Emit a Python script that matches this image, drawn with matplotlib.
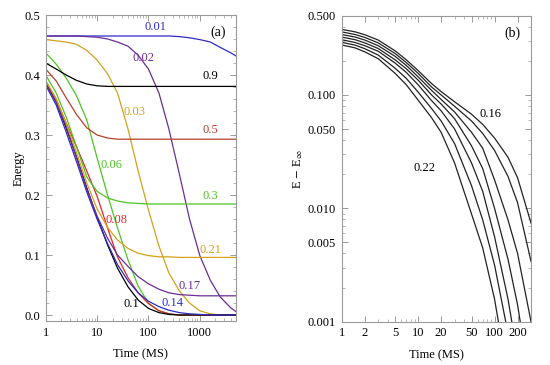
import matplotlib
matplotlib.use("Agg")
import matplotlib.pyplot as plt
from matplotlib.ticker import NullFormatter, LogLocator, MultipleLocator

plt.rcParams['font.family'] = ['Liberation Serif', 'DejaVu Serif']
plt.rcParams['mathtext.fontset'] = 'stix'

# ---------------- panel (a) data ----------------
t_a = [1, 1.6, 2.5, 4, 6.3, 10, 16, 25, 40, 63, 100, 160, 250, 400, 630, 1000, 1600, 2500, 4000, 5000]

e_001 = [0.465, 0.465, 0.465, 0.465, 0.465, 0.465, 0.465, 0.465, 0.465, 0.465, 0.465, 0.465, 0.465, 0.464, 0.462, 0.459, 0.455, 0.446, 0.437, 0.432]
e_002 = [0.465, 0.465, 0.465, 0.465, 0.464, 0.463, 0.460, 0.455, 0.448, 0.433, 0.410, 0.370, 0.310, 0.235, 0.160, 0.099, 0.058, 0.030, 0.012, 0.006]
e_003 = [0.459, 0.457, 0.455, 0.451, 0.441, 0.425, 0.402, 0.370, 0.310, 0.240, 0.175, 0.115, 0.070, 0.040, 0.020, 0.007, 0.002, 0.0, 0.0, 0.0]
e_006 = [0.437, 0.418, 0.395, 0.365, 0.325, 0.262, 0.200, 0.145, 0.092, 0.048, 0.020, 0.007, 0.002, 0.0, 0.0, 0.0, 0.0, 0.0, 0.0, 0.0]
e_008 = [0.390, 0.360, 0.320, 0.280, 0.240, 0.198, 0.145, 0.097, 0.062, 0.037, 0.019, 0.007, 0.002, 0.0, 0.0, 0.0, 0.0, 0.0, 0.0, 0.0]
e_010 = [0.388, 0.355, 0.312, 0.263, 0.212, 0.163, 0.117, 0.078, 0.047, 0.025, 0.011, 0.004, 0.001, 0.0, 0.0, 0.0, 0.0, 0.0, 0.0, 0.0]
e_014 = [0.383, 0.350, 0.305, 0.255, 0.205, 0.160, 0.119, 0.084, 0.057, 0.037, 0.023, 0.014, 0.008, 0.004, 0.002, 0.001, 0.0, 0.0, 0.0, 0.0]
e_017 = [0.385, 0.355, 0.315, 0.262, 0.210, 0.165, 0.128, 0.100, 0.081, 0.064, 0.052, 0.043, 0.037, 0.034, 0.033, 0.032, 0.032, 0.032, 0.032, 0.032]
e_021 = [0.390, 0.360, 0.320, 0.270, 0.220, 0.177, 0.146, 0.125, 0.111, 0.103, 0.099, 0.097, 0.097, 0.096, 0.096, 0.096, 0.096, 0.096, 0.096, 0.096]
e_030 = [0.400, 0.370, 0.330, 0.280, 0.230, 0.206, 0.195, 0.190, 0.187, 0.186, 0.185, 0.185, 0.185, 0.185, 0.185, 0.185, 0.185, 0.185, 0.185, 0.185]
e_050 = [0.410, 0.390, 0.362, 0.334, 0.312, 0.300, 0.295, 0.293, 0.293, 0.293, 0.293, 0.293, 0.293, 0.293, 0.293, 0.293, 0.293, 0.293, 0.293, 0.293]
e_090 = [0.420, 0.410, 0.400, 0.391, 0.385, 0.382, 0.381, 0.381, 0.381, 0.381, 0.381, 0.381, 0.381, 0.381, 0.381, 0.381, 0.381, 0.381, 0.381, 0.381]

labels_a = ['0.01', '0.02', '0.03', '0.06', '0.08', '0.1', '0.14', '0.17', '0.21', '0.3', '0.5', '0.9']
colors_a = ['#2c2cc8', '#6b2d96', '#d4a21a', '#4ec423', '#e0262a', '#000000',
            '#2c2cc8', '#6b2d96', '#d4a21a', '#4ec423', '#b8402a', '#000000']
label_x_a = [138, 80, 54, 19.5, 24, 47, 300, 630, 1600, 1600, 1600, 1600]
label_y_a = [0.480, 0.428, 0.339, 0.250, 0.158, 0.018, 0.020, 0.048, 0.108, 0.199, 0.308, 0.398]

# ---------------- panel (b) data ----------------
t_b = [1, 1.5, 2, 3, 5, 7, 10, 15, 20, 30, 50, 70, 100, 150, 200, 300]
d_016 = [0.379, 0.360, 0.340, 0.305, 0.245, 0.204, 0.164, 0.126, 0.107, 0.087, 0.0676, 0.055, 0.0417, 0.0282, 0.0186, 0.0074]
d_017 = [0.360, 0.341, 0.322, 0.288, 0.232, 0.193, 0.155, 0.1175, 0.100, 0.0794, 0.0589, 0.0457, 0.0324, 0.0191, 0.0112, 0.0034]
d_018 = [0.341, 0.324, 0.305, 0.272, 0.219, 0.182, 0.1445, 0.1096, 0.0912, 0.0708, 0.0468, 0.0339, 0.0178, 0.0079, 0.0040, 0.0010]
d_019 = [0.324, 0.307, 0.288, 0.257, 0.204, 0.170, 0.135, 0.100, 0.0832, 0.0617, 0.0355, 0.0224, 0.0100, 0.00355, 0.00141, 0.00025]
d_020 = [0.307, 0.290, 0.272, 0.243, 0.191, 0.158, 0.123, 0.0891, 0.0724, 0.0501, 0.0251, 0.0141, 0.00562, 0.00158, 0.0005, 0.000063]
d_021 = [0.291, 0.275, 0.256, 0.225, 0.172, 0.140, 0.106, 0.0759, 0.0589, 0.0372, 0.0158, 0.0079, 0.00316, 0.00079, 0.0002, 0.00003]
d_022 = [0.276, 0.260, 0.240, 0.209, 0.155, 0.123, 0.090, 0.063, 0.0468, 0.0251, 0.0089, 0.00447, 0.00158, 0.00032, 0.0001, 0.00001]

frame_col = '#9a9a9a'
fs = 9

fig = plt.figure(figsize=(5.5, 3.65), dpi=100)
ax1 = fig.add_axes([0.0831, 0.1205, 0.3455, 0.8384])
ax2 = fig.add_axes([0.6213, 0.1186, 0.3442, 0.8384])

curves_a = [e_001, e_002, e_003, e_006, e_008, e_010, e_014, e_017, e_021, e_030, e_050, e_090]
for e, c in zip(curves_a, colors_a):
    ax1.plot(t_a, e, color=c, lw=0.9, solid_joinstyle='round')
for lab, c, x, y in zip(labels_a, colors_a, label_x_a, label_y_a):
    ax1.text(x, y, lab, color=c, fontsize=fs, ha='center', va='center')
ax1.text(2240, 0.472, '(a)', fontsize=10, ha='center', va='center')

ax1.set_xscale('log')
ax1.set_xlim(1, 5000)
ax1.set_ylim(-0.01, 0.5)
ax1.set_xticks([1, 10, 100, 1000])
ax1.set_xticklabels(['1', '10', '100', '1000'])
ax1.set_yticks([0.0, 0.1, 0.2, 0.3, 0.4, 0.5])
ax1.set_yticklabels(['0.0', '0.1', '0.2', '0.3', '0.4', '0.5'])
ax1.yaxis.set_minor_locator(MultipleLocator(0.02))
ax1.xaxis.set_minor_locator(LogLocator(base=10, subs=range(2, 10)))
ax1.xaxis.set_minor_formatter(NullFormatter())
ax1.set_xlabel('Time (MS)', fontsize=fs, labelpad=7)
ax1.set_ylabel('Energy', fontsize=fs, labelpad=0)

curves_b = [d_016, d_017, d_018, d_019, d_020, d_021, d_022]
for d in curves_b:
    ax2.plot(t_b, d, color='#222222', lw=0.9, solid_joinstyle='round')
ax2.text(89, 0.0676, '0.16', fontsize=fs, ha='center', va='center')
ax2.text(12.1, 0.0225, '0.22', fontsize=fs, ha='center', va='center')
ax2.text(173, 0.35, '(b)', fontsize=10, ha='center', va='center')
ax2.set_xscale('log')
ax2.set_yscale('log')
ax2.set_xlim(1, 300)
ax2.set_ylim(0.001, 0.5)
ax2.set_xticks([1, 2, 5, 10, 20, 50, 100, 200])
ax2.set_xticklabels(['1', '2', '5', '10', '20', '50', '100', '200'])
ax2.xaxis.set_minor_locator(LogLocator(base=10, subs=range(2, 10)))
ax2.xaxis.set_minor_formatter(NullFormatter())
ax2.set_yticks([0.001, 0.005, 0.01, 0.05, 0.1, 0.5])
ax2.set_yticklabels(['0.001', '0.005', '0.010', '0.050', '0.100', '0.500'])
ax2.yaxis.set_minor_locator(LogLocator(base=10, subs=range(2, 10)))
ax2.yaxis.set_minor_formatter(NullFormatter())
ax2.set_xlabel('Time (MS)', fontsize=fs, labelpad=7)
ax2.set_ylabel(r'E $-$ E$_{\infty}$', fontsize=fs, labelpad=2)

for ax in (ax1, ax2):
    for sp in ax.spines.values():
        sp.set_color(frame_col)
        sp.set_linewidth(0.8)
    ax.tick_params(which='both', direction='in', top=True, right=True,
                   color=frame_col, labelsize=fs, pad=4)
    ax.tick_params(which='major', length=4, width=0.7)
    ax.tick_params(which='minor', length=2, width=0.5)

fig.savefig('out.png', dpi=100)
